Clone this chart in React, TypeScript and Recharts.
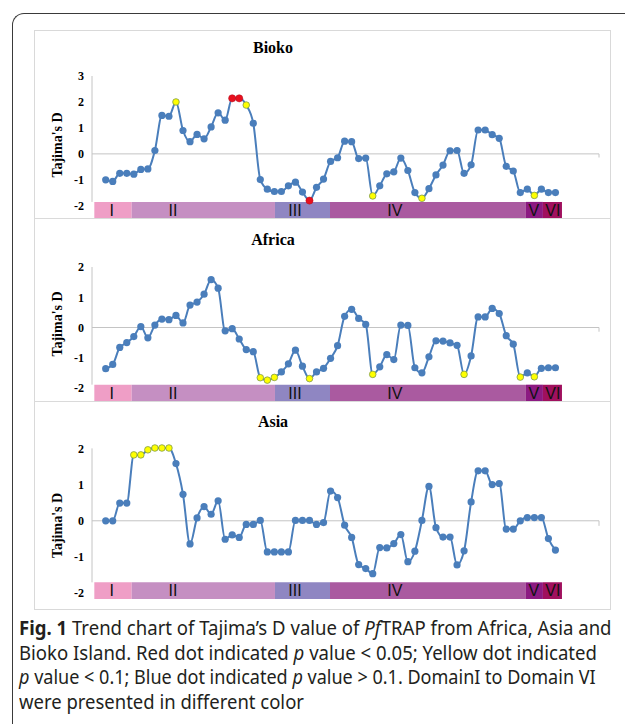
import React, { useLayoutEffect, useRef, useState } from "react";
import {
  LineChart,
  Line,
  XAxis,
  YAxis,
  ReferenceArea,
  ReferenceLine,
  ReferenceDot,
} from "recharts";

// sliding-window number along PfTRAP
const windows = [
  1, 2, 3, 4, 5, 6, 7, 8, 9, 10, 11, 12, 13, 14, 15, 16, 17, 18, 19, 20, 21, 22,
  23, 24, 25, 26, 27, 28, 29, 30, 31, 32, 33, 34, 35, 36, 37, 38, 39, 40, 41, 42,
  43, 44, 45, 46, 47, 48, 49, 50, 51, 52, 53, 54, 55, 56, 57, 58, 59, 60, 61, 62,
  63, 64, 65,
];

const biokoD = [
  -1.0, -1.06, -0.75, -0.75, -0.78, -0.6, -0.58, 0.13, 1.48, 1.45, 2.0, 0.9, 0.47,
  0.75, 0.58, 1.04, 1.58, 1.3, 2.14, 2.14, 1.88, 1.18, -0.99, -1.36, -1.45, -1.45,
  -1.23, -1.09, -1.47, -1.8, -1.29, -0.97, -0.29, -0.15, 0.49, 0.47, -0.18, -0.16,
  -1.62, -1.23, -0.77, -0.69, -0.16, -0.64, -1.49, -1.71, -1.34, -0.81, -0.43, 0.12,
  0.13, -0.75, -0.42, 0.92, 0.92, 0.74, 0.6, -0.48, -0.66, -1.49, -1.36, -1.6, -1.36,
  -1.49, -1.49,
];

const africaD = [
  -1.36, -1.22, -0.66, -0.5, -0.3, 0.03, -0.34, 0.08, 0.28, 0.26, 0.4, 0.15, 0.74,
  0.84, 1.1, 1.58, 1.3, -0.11, -0.04, -0.38, -0.73, -0.8, -1.66, -1.74, -1.65, -1.47,
  -1.2, -0.75, -1.28, -1.69, -1.47, -1.35, -1.02, -0.6, 0.37, 0.6, 0.3, 0.1, -1.55,
  -1.3, -0.9, -1.06, 0.08, 0.07, -1.33, -1.5, -0.97, -0.44, -0.45, -0.51, -0.59,
  -1.55, -0.94, 0.35, 0.35, 0.63, 0.46, -0.27, -0.55, -1.64, -1.5, -1.63, -1.35,
  -1.33, -1.33,
];

const asiaD = [
  0, 0, 0.49, 0.49, 1.82, 1.82, 1.96, 2.01, 2.01, 2.01, 1.58, 0.73, -0.64, 0.08,
  0.39, 0.18, 0.55, -0.51, -0.39, -0.46, -0.1, -0.1, 0.01, -0.86, -0.86, -0.86,
  -0.86, 0.01, 0.01, 0.01, -0.1, -0.05, 0.82, 0.64, -0.12, -0.46, -1.21, -1.32,
  -1.46, -0.74, -0.75, -0.63, -0.38, -1.13, -0.84, 0.01, 0.95, -0.19, -0.45, -0.45,
  -1.22, -0.83, 0.52, 1.38, 1.38, 1.0, 1.03, -0.23, -0.23, 0, 0.09, 0.09, 0.09,
  -0.49, -0.81,
];

// windows with p < 0.05 (red) and p < 0.1 (yellow)
const biokoRed = [19, 20, 30];
const biokoYellow = [11, 21, 39, 46, 62];
const africaRed: number[] = [];
const africaYellow = [23, 24, 25, 30, 39, 52, 60, 62];
const asiaRed: number[] = [];
const asiaYellow = [5, 6, 7, 8, 9, 10];

const biokoTicks = [-2, -1, 0, 1, 2, 3];
const otherTicks = [-2, -1, 0, 1, 2];

// domains of PfTRAP in window units
const domainNames = ["I", "II", "III", "IV", "V", "VI"];
const domainStart = [-0.62, 4.7, 25.09, 32.92, 60.8, 63.22];
const domainEnd = [4.7, 25.09, 32.92, 60.8, 63.22, 65.93];
const domainLabelAt = [1.85, 10.58, 27.94, 42.16, 61.94, 64.64];

const domainFill = ["#ef9ec6", "#c58fc2", "#8f86c2", "#aa5aa0", "#8c1a82", "#a0105e"];

const X_DOMAIN: [number, number] = [-0.95, 71.2];
const SERIF = "'Liberation Serif', 'Times New Roman', serif";
const SANS = "'Liberation Sans', Arial, sans-serif";
const BLUE = "#4a7ebb";
const GRID = "#c4c4c4";

function YLabel(props: any) {
  const { viewBox, shift } = props;
  const x = viewBox.x + 23;
  const y = viewBox.y + viewBox.height / 2 + shift;
  return (
    <text
      x={x}
      y={y}
      transform={`rotate(-90 ${x} ${y})`}
      textAnchor="middle"
      dominantBaseline="central"
      fill="#000"
      style={{ fontFamily: SERIF, fontWeight: 700, fontSize: 14 }}
    >
      Tajima's D
    </text>
  );
}

type PanelProps = {
  title: string;
  values: number[];
  red: number[];
  yellow: number[];
  ticks: number[];
  yMin: number;
  barTop: number;
  top: number;
  height: number;
  marginTop: number;
  marginBottom: number;
  titleY: number;
  labelShift: number;
};

function Panel({
  title,
  values,
  red,
  yellow,
  ticks,
  yMin,
  barTop,
  top,
  height,
  marginTop,
  marginBottom,
  titleY,
  labelShift,
}: PanelProps) {
  const data = windows.map((w, i) => ({
    w,
    d: values[i],
    sig: red.includes(w) ? 2 : yellow.includes(w) ? 1 : 0,
  }));
  const yMax = ticks[ticks.length - 1];
  const barMid = (barTop + yMin) / 2;

  const renderDot = (p: any) => {
    const { cx, cy, index, payload } = p;
    if (payload.sig === 2)
      return <circle key={`dot-${index}`} cx={cx} cy={cy} r={3.6} fill="#e8101e" stroke="#b01020" strokeWidth={0.5} />;
    if (payload.sig === 1)
      return <circle key={`dot-${index}`} cx={cx} cy={cy} r={3.3} fill="#ffff00" stroke="#7d9a4a" strokeWidth={0.8} />;
    return <circle key={`dot-${index}`} cx={cx} cy={cy} r={3.6} fill={BLUE} stroke="none" />;
  };

  return (
    <div style={{ position: "absolute", left: 34, top, width: 576, height }}>
      <div
        style={{
          position: "absolute",
          left: 0,
          width: 478,
          top: titleY - 10,
          height: 20,
          lineHeight: "20px",
          textAlign: "center",
          fontFamily: SERIF,
          fontWeight: 700,
          fontSize: 16,
          color: "#000",
        }}
      >
        {title}
      </div>
      <LineChart
        width={576}
        height={height}
        data={data}
        margin={{ top: marginTop, right: 11, bottom: marginBottom, left: 0 }}
      >
        <XAxis type="number" dataKey="w" domain={X_DOMAIN} hide />
        <YAxis
          type="number"
          domain={[yMin, yMax]}
          ticks={ticks}
          interval={0}
          width={58}
          axisLine={false}
          tickLine={false}
          tick={{ fill: "#000", fontFamily: SERIF, fontWeight: 700, fontSize: 12 }}
          label={<YLabel shift={labelShift} />}
        />
        <ReferenceLine
          segment={[
            { x: X_DOMAIN[0], y: barTop },
            { x: X_DOMAIN[0], y: yMax },
          ]}
          stroke={GRID}
          strokeWidth={1}
        />
        <ReferenceLine y={0} stroke={GRID} strokeWidth={1} />
        <ReferenceLine
          segment={[
            { x: X_DOMAIN[1], y: 0 },
            { x: X_DOMAIN[1], y: -0.14 },
          ]}
          stroke={GRID}
          strokeWidth={1}
        />
        {domainNames.map((name, i) => (
          <ReferenceArea
            key={`area-${name}`}
            x1={domainStart[i]}
            x2={domainEnd[i]}
            y1={yMin}
            y2={barTop}
            fill={domainFill[i]}
            fillOpacity={1}
            stroke="none"
            ifOverflow="visible"
          />
        ))}
        {domainNames.map((name, i) => (
          <ReferenceDot
            key={`lab-${name}`}
            x={domainLabelAt[i]}
            y={barMid}
            r={0}
            fill="none"
            stroke="none"
            ifOverflow="visible"
            label={{
              value: name,
              position: "center",
              fill: "#111",
              fontSize: 16,
              fontFamily: SANS,
            }}
          />
        ))}
        <Line
          type="monotone"
          dataKey="d"
          stroke={BLUE}
          strokeWidth={2}
          dot={renderDot}
          activeDot={false}
          isAnimationActive={false}
        />
      </LineChart>
    </div>
  );
}

// one caption line, squeezed horizontally to the width it has in the figure
function CaptionLine({ top, width, children }: { top: number; width: number; children: React.ReactNode }) {
  const ref = useRef<HTMLDivElement>(null);
  const [scale, setScale] = useState(1);
  useLayoutEffect(() => {
    const el = ref.current;
    if (el && el.offsetWidth > 0) setScale(width / el.offsetWidth);
  }, [width]);
  return (
    <div
      ref={ref}
      style={{
        position: "absolute",
        left: 19,
        top,
        whiteSpace: "nowrap",
        fontFamily: "'Noto Sans', 'Open Sans', sans-serif",
        fontSize: 19,
        lineHeight: "24px",
        color: "#231f20",
        transformOrigin: "0 0",
        transform: `scaleX(${scale})`,
      }}
    >
      {children}
    </div>
  );
}

export default function App() {
  return (
    <div
      style={{
        position: "absolute",
        left: 0,
        top: 0,
        width: 625,
        height: 724,
        background: "#fff",
        overflow: "hidden",
      }}
    >
      <div
        style={{
          position: "absolute",
          left: 12,
          top: 13,
          width: 700,
          height: 800,
          borderTop: "1.5px solid #3a3a3a",
          borderLeft: "1.5px solid #3a3a3a",
          borderTopLeftRadius: 12,
        }}
      />
      <div
        style={{
          position: "absolute",
          left: 34,
          top: 30,
          width: 575,
          height: 578,
          border: "1px solid #d9d9d9",
        }}
      />
      <div style={{ position: "absolute", left: 34, top: 218, width: 576, height: 1, background: "#dadada" }} />
      <div style={{ position: "absolute", left: 34, top: 401, width: 576, height: 1, background: "#dadada" }} />

      <Panel
        title="Bioko"
        values={biokoD}
        red={biokoRed}
        yellow={biokoYellow}
        ticks={biokoTicks}
        yMin={-2.47}
        barTop={-1.85}
        top={30}
        height={188}
        marginTop={46}
        marginBottom={0}
        titleY={18}
        labelShift={-2}
      />
      <Panel
        title="Africa"
        values={africaD}
        red={africaRed}
        yellow={africaYellow}
        ticks={otherTicks}
        yMin={-2.43}
        barTop={-1.89}
        top={218}
        height={183}
        marginTop={49}
        marginBottom={0}
        titleY={22}
        labelShift={-10}
      />
      <Panel
        title="Asia"
        values={asiaD}
        red={asiaRed}
        yellow={asiaYellow}
        ticks={otherTicks}
        yMin={-2.16}
        barTop={-1.7}
        top={401}
        height={208}
        marginTop={47}
        marginBottom={10}
        titleY={21}
        labelShift={2}
      />

      <CaptionLine top={616} width={593}>
        <b>Fig. 1</b>
        {"  Trend chart of Tajima’s D value of "}
        <i>Pf</i>
        TRAP from Africa, Asia and
      </CaptionLine>
      <CaptionLine top={641} width={578}>
        {"Bioko Island. Red dot indicated "}
        <i>p</i>
        {" value < 0.05; Yellow dot indicated"}
      </CaptionLine>
      <CaptionLine top={665} width={577}>
        <i>p</i>
        {" value < 0.1; Blue dot indicated "}
        <i>p</i>
        {" value > 0.1. DomainI to Domain VI"}
      </CaptionLine>
      <CaptionLine top={690} width={285}>
        were presented in different color
      </CaptionLine>
    </div>
  );
}
